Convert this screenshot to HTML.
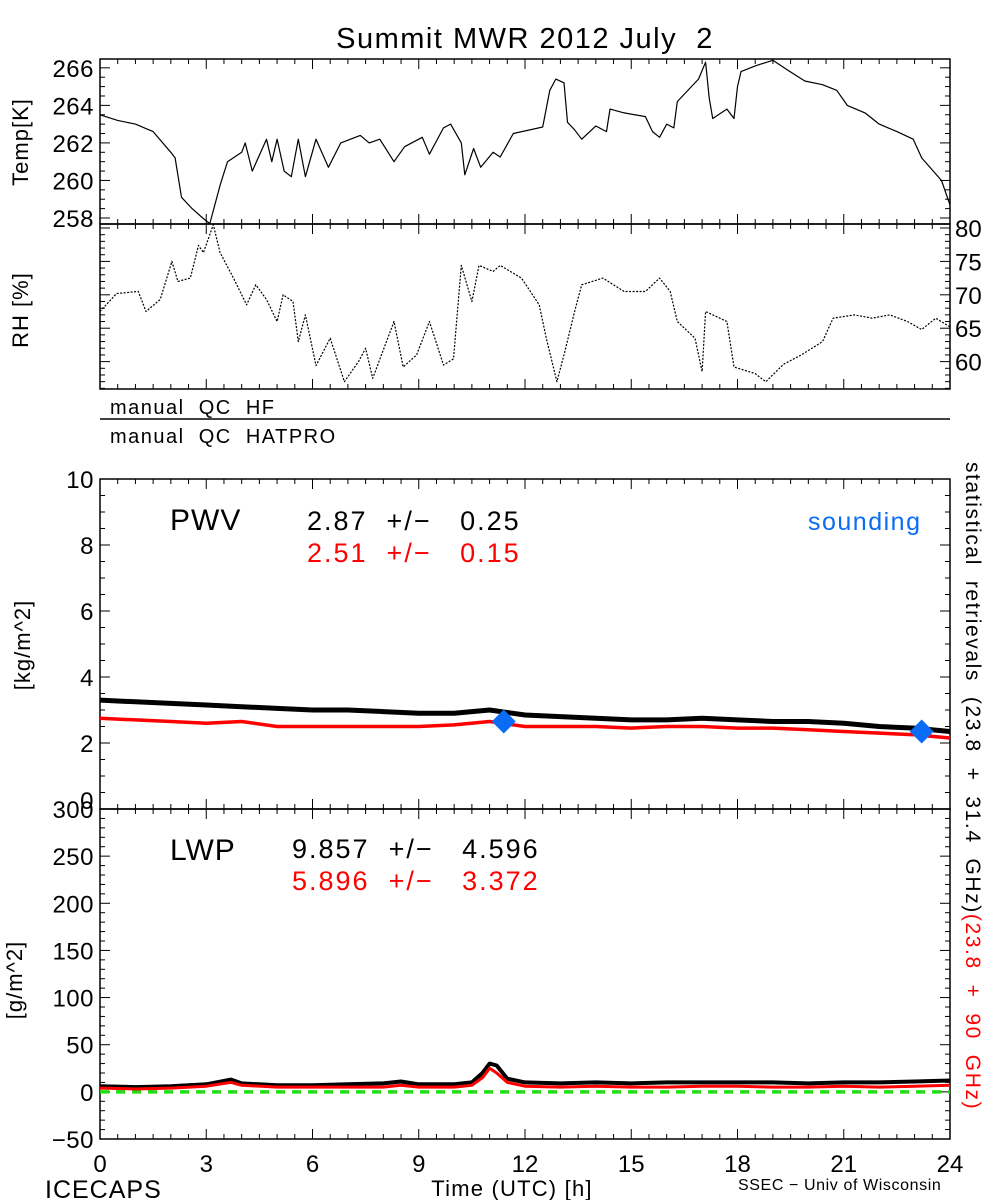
<!DOCTYPE html>
<html><head><meta charset="utf-8">
<style>
html,body{margin:0;padding:0;background:#fff;}
svg{display:block;font-family:"Liberation Sans","DejaVu Sans",sans-serif;}
text{white-space:pre;}
</style></head>
<body>
<svg id="chart" width="1000" height="1200" viewBox="0 0 1000 1200" xmlns="http://www.w3.org/2000/svg">
<rect width="1000" height="1200" fill="#fff"/>
<text x="525" y="48" font-size="29" letter-spacing="1.5" text-anchor="middle">Summit MWR 2012 July  2</text>
<g id="g"></g>
<text transform="translate(28,142) rotate(-90)" font-size="22" letter-spacing="1" text-anchor="middle">Temp[K]</text>
<text transform="translate(28,310) rotate(-90)" font-size="22" letter-spacing="1" text-anchor="middle">RH [%]</text>
<text x="110" y="414" font-size="20" letter-spacing="1.5">manual  QC  HF</text>
<line x1="100" y1="419" x2="950" y2="419" stroke="#000" stroke-width="1.5"/>
<text x="110" y="443" font-size="20" letter-spacing="1.5">manual  QC  HATPRO</text>
<text transform="translate(30,645) rotate(-90)" font-size="22" letter-spacing="1" text-anchor="middle">[kg/m^2]</text>
<text transform="translate(22,980) rotate(-90)" font-size="22" letter-spacing="1" text-anchor="middle">[g/m^2]</text>
<text x="170" y="530" font-size="30" letter-spacing="1">PWV</text>
<text x="307" y="530" font-size="27" letter-spacing="2">2.87  +/−   0.25</text>
<text x="307" y="562" font-size="27" letter-spacing="2" fill="#f00">2.51  +/−   0.15</text>
<text x="808" y="530" font-size="25" letter-spacing="1.5" fill="#0a6cf5">sounding</text>
<text x="170" y="860" font-size="30" letter-spacing="1">LWP</text>
<text x="292" y="858" font-size="27" letter-spacing="2">9.857  +/−   4.596</text>
<text x="292" y="890" font-size="27" letter-spacing="2" fill="#f00">5.896  +/−   3.372</text>
<text transform="translate(966,462) rotate(90)" font-size="21" letter-spacing="1.6"><tspan>statistical  retrievals  (23.8  +  31.4  GHz)</tspan><tspan fill="#f00">(23.8  +  90  GHz)</tspan></text>
<text x="512" y="1196" font-size="22" letter-spacing="1.2" text-anchor="middle">Time (UTC) [h]</text>
<text x="45" y="1198" font-size="25" letter-spacing="1">ICECAPS</text>
<text x="738" y="1190" font-size="16" letter-spacing="0.6">SSEC − Univ of Wisconsin</text>
</svg>
<script>
const tempTimes=[0,0.5,1,1.5,2,2.12,2.3,2.6,2.9,3.1,3.4,3.6,4,4.1,4.3,4.7,4.85,5.0,5.2,5.4,5.6,5.8,6.1,6.45,6.8,7.35,7.6,7.9,8.3,8.6,9.1,9.3,9.7,9.9,10.2,10.3,10.55,10.75,11.1,11.3,11.67,12.5,12.7,12.87,13.1,13.2,13.4,13.6,14.0,14.3,14.4,14.8,15.4,15.6,15.8,16.0,16.2,16.3,16.9,17.1,17.2,17.3,17.7,17.9,18.0,18.1,18.5,19.0,19.4,19.9,20.4,20.8,21.1,21.6,22.0,22.5,22.96,23.2,23.76,24];
const tempVals=[263.5,263.2,263.0,262.6,261.5,261.2,259.1,258.5,258.0,257.7,259.8,261.0,261.5,262.0,260.5,262.2,261.0,262.2,260.5,260.2,262.2,260.2,262.2,260.7,262.0,262.4,262.0,262.2,261.0,261.8,262.3,261.4,262.8,263.0,262.0,260.3,261.7,260.7,261.5,261.25,262.5,262.85,264.8,265.4,265.2,263.1,262.7,262.2,262.9,262.6,263.8,263.6,263.4,262.6,262.3,263.0,262.8,264.2,265.4,266.3,264.4,263.3,263.8,263.3,265.0,265.8,266.1,266.4,265.9,265.3,265.1,264.8,264.0,263.6,263.0,262.6,262.2,261.2,260.0,258.7];
const rhTimes=[0,0.47,1.08,1.3,1.7,2.03,2.2,2.55,2.78,2.92,3.2,3.39,3.77,4.14,4.4,4.7,5.0,5.17,5.45,5.6,5.8,6.1,6.5,6.9,7.3,7.5,7.7,8.3,8.56,8.94,9.3,9.7,9.98,10.2,10.5,10.7,11.1,11.3,11.9,12.4,12.6,12.9,13.1,13.4,13.6,14.2,14.8,15.4,15.8,16.1,16.3,16.8,17.0,17.1,17.7,17.9,18.5,18.8,19.3,19.8,20.4,20.7,21.3,21.8,22.3,22.8,23.2,23.6,24];
const rhVals=[67.5,70.2,70.5,67.5,69.3,75,72,72.5,77.4,76.3,80.5,76.3,72.5,68.5,71.5,69.3,66,70,69,63,67,59.4,63.5,57,60,62,57.5,66,59.2,61,66,59.5,60.4,74.4,69,74.4,73.5,74.4,72.5,68.5,63.5,57,61,67.5,71.5,72.5,70.5,70.5,72.5,70.5,66,63.5,58.5,67.5,66,59.2,58.2,57,59.6,61,63,66.5,67,66.5,67,66,64.8,66.5,65.2];
const pwvTimes=[0,1,2,3,4,5,6,7,8,9,10,11,12,13,14,15,16,17,18,19,20,21,22,23,24];
const pwvBlack=[3.3,3.25,3.2,3.15,3.1,3.05,3.0,3.0,2.95,2.9,2.9,3.0,2.85,2.8,2.75,2.7,2.7,2.75,2.7,2.65,2.65,2.6,2.5,2.45,2.35];
const pwvRed=[2.75,2.7,2.65,2.6,2.65,2.5,2.5,2.5,2.5,2.5,2.55,2.65,2.5,2.5,2.5,2.45,2.5,2.5,2.45,2.45,2.4,2.35,2.3,2.25,2.15];
const soundTimes=[11.4,23.2];
const soundVals=[2.65,2.35];
const lwpTimes=[0,1,2,3,3.7,4,5,6,7,8,8.5,9,10,10.5,10.8,11.0,11.2,11.5,12,13,14,15,16,17,18,19,20,21,22,23,24];
const lwpBlack=[6,5,6,8,13,9,7,7,8,9,11,8,8,10,20,30,28,14,10,9,10,9,10,10,10,10,9,10,10,11,12];
const lwpRed=[4,3,4,6,10,7,5,5,5,5,7,5,5,7,15,25,20,10,6,5,6,5,5,6,6,5,5,6,5,6,7];
const temp=[257.68,266.47],rh=[55.9,80.6],pwv=[0,10],lwp=[-50,300];
const X0=100,X1=950;
const NS="http://www.w3.org/2000/svg";
const g=document.getElementById('g');
function xs(h){return X0+(X1-X0)*h/24;}
function ys(v,dom,top,bot){return bot-(v-dom[0])/(dom[1]-dom[0])*(bot-top);}
function mk(tag,attrs){const e=document.createElementNS(NS,tag);for(const k in attrs)e.setAttribute(k,attrs[k]);g.appendChild(e);return e;}
function line(t,v,dom,top,bot,color,w,dash,name){
  let d='';for(let i=0;i<t.length;i++){d+=(i?'L':'M')+xs(t[i]).toFixed(1)+','+ys(v[i],dom,top,bot).toFixed(1);}
  const p=mk('path',{d:d,fill:'none',stroke:color,'stroke-width':w,'stroke-linejoin':'round'});
  if(dash)p.setAttribute('stroke-dasharray',dash);
  
  
}
function frame(top,bot,name){
  const r=mk('rect',{x:X0,y:top,width:X1-X0,height:bot-top,fill:'none',stroke:'#000','stroke-width':1.5});
  
  
  for(let h=0;h<=24;h+=0.5){const L=(h%3===0)?10:5;const x=xs(h);
    mk('line',{x1:x,y1:bot,x2:x,y2:bot-L,stroke:'#000'});mk('line',{x1:x,y1:top,x2:x,y2:top+L,stroke:'#000'});}
}
function yticks(dom,top,bot,major,minor,side,labels,off){
  for(let v=Math.ceil(dom[0]/minor)*minor;v<=dom[1]+1e-6;v+=minor){const y=ys(v,dom,top,bot);
    const isMaj=Math.abs(v/major-Math.round(v/major))<1e-6;const L=isMaj?10:5;
    if(side!=='right')mk('line',{x1:X0,y1:y,x2:X0+L,y2:y,stroke:'#000'});
    if(side!=='left')mk('line',{x1:X1,y1:y,x2:X1-L,y2:y,stroke:'#000'});
  }
  labels.forEach(v=>{const y=ys(v,dom,top,bot);
    const t=mk('text',{x:X0-6,y:y+9+(off&&v===dom[0]?-9:0)+(off&&v===dom[1]?0:0),'font-size':24,'letter-spacing':'0.5','text-anchor':'end'});
    t.textContent=(v<0?'−':'')+Math.abs(v);
    
    });
}
frame(59,224,'temp-panel');
yticks(temp,59,224,2,0.5,'both',[258,260,262,264,266]);
line(tempTimes,tempVals,temp,59,224,'#000',1.2,null,'temp-line');
frame(224,389,'rh-panel');
yticks(rh,224,389,5,1,'both',[]);
[60,65,70,75,80].forEach(v=>{const t=mk('text',{x:X1+5,y:ys(v,rh,224,389)+9,'font-size':24});t.textContent=v;
  
  });
line(rhTimes,rhVals,rh,224,389,'#000',1.2,'2 1.5','rh-line');
frame(479,809,'pwv-panel');
yticks(pwv,479,809,2,0.5,'both',[0,2,4,6,8,10],true);
line(pwvTimes,pwvBlack,pwv,479,809,'#000',5,null,'pwv-black-line');
line(pwvTimes,pwvRed,pwv,479,809,'#f00',3.5,null,'pwv-red-line');
soundTimes.forEach((h,i)=>{const x=xs(h),y=ys(soundVals[i],pwv,479,809);
  const p=mk('polygon',{points:`${x},${y-12} ${x+12},${y} ${x},${y+12} ${x-12},${y}`,fill:'#0a6cf5'});
  
  });
frame(809,1139,'lwp-panel');
yticks(lwp,809,1139,50,10,'both',[-50,0,50,100,150,200,250,300]);
const gz=ys(0,lwp,809,1139);
const gl=mk('line',{x1:X0,y1:gz,x2:X1,y2:gz,stroke:'#22dd11','stroke-width':3.5,'stroke-dasharray':'9 7'});


line(lwpTimes,lwpBlack,lwp,809,1139,'#000',4,null,'lwp-black-line');
line(lwpTimes,lwpRed,lwp,809,1139,'#f00',3,null,'lwp-red-line');
for(let h=0;h<=24;h+=3){const t=mk('text',{x:xs(h),y:1172,'font-size':24,'text-anchor':'middle'});t.textContent=h;
  
  }
</script>
</body></html>
